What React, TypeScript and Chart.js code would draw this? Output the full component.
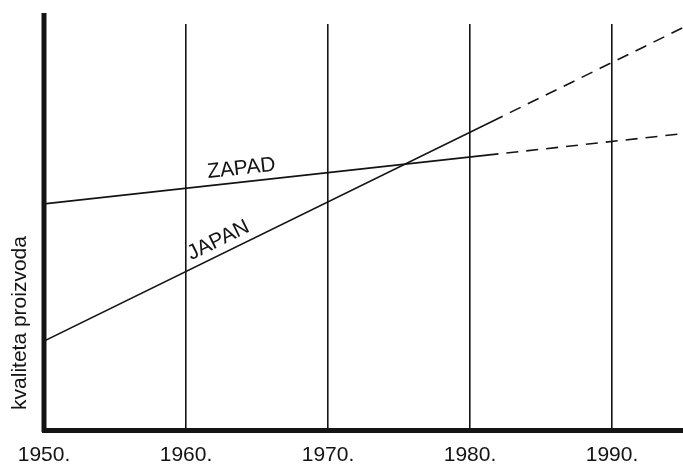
import { useEffect, useRef } from 'react';
import { Chart, registerables } from 'chart.js';

Chart.register(...registerables);

const tickYears = [1950, 1960, 1970, 1980, 1990];
const tickLabels = ['1950.', '1960.', '1970.', '1980.', '1990.'];
const zapadYears = [1950, 1982, 1995];
const zapadValues = [55.7, 68.0, 73.0];
const japanYears = [1950, 1982.3, 1995];
const japanValues = [21.9, 77.3, 99.1];
const seriesNames = ['ZAPAD', 'JAPAN'];
const labelYears = [1964.0, 1962.7];
const yTitle = 'kvaliteta proizvoda';

const FONT = "'Liberation Sans', Arial, sans-serif";
const INK = '#141414';

const lineLabelPlugin = {
  id: 'lineLabels',
  afterDatasetsDraw(chart: any) {
    const { ctx, scales } = chart;
    const xs = scales.x;
    const ys = scales.y;
    chart.data.datasets.forEach((ds: any, i: number) => {
      const pts = ds.data as { x: number; y: number }[];
      const yr = labelYears[i];
      let k = 0;
      while (k < pts.length - 2 && pts[k + 1].x < yr) k++;
      const a = pts[k];
      const b = pts[k + 1];
      const t = (yr - a.x) / (b.x - a.x);
      const v = a.y + (b.y - a.y) * t;
      const px = xs.getPixelForValue(yr);
      const py = ys.getPixelForValue(v);
      const ang = Math.atan2(
        ys.getPixelForValue(b.y) - ys.getPixelForValue(a.y),
        xs.getPixelForValue(b.x) - xs.getPixelForValue(a.x)
      );
      ctx.save();
      ctx.translate(px, py);
      ctx.rotate(ang);
      ctx.fillStyle = INK;
      ctx.font = `21px ${FONT}`;
      ctx.textAlign = 'center';
      ctx.textBaseline = 'bottom';
      ctx.fillText(seriesNames[i], 0, -3);
      ctx.restore();
    });
  },
  afterDraw(chart: any) {
    const { ctx, chartArea } = chart;
    ctx.save();
    ctx.strokeStyle = INK;
    ctx.lineWidth = 5;
    ctx.beginPath();
    ctx.moveTo(chartArea.left, chartArea.top - 11);
    ctx.lineTo(chartArea.left, chartArea.bottom + 2);
    ctx.stroke();
    ctx.translate(chartArea.left - 24, chartArea.bottom - 107);
    ctx.rotate(-Math.PI / 2);
    ctx.fillStyle = INK;
    ctx.font = `21px ${FONT}`;
    ctx.textAlign = 'center';
    ctx.textBaseline = 'middle';
    ctx.fillText(yTitle, 0, 0);
    ctx.restore();
  },
};

export default function App() {
  const ref = useRef<HTMLCanvasElement | null>(null);

  useEffect(() => {
    if (!ref.current) return;
    const mk = (xsArr: number[], vs: number[]) => xsArr.map((x, i) => ({ x, y: vs[i] }));
    const dashSeg = (ctx: any) => (ctx.p0DataIndex >= 1 ? [12, 8] : undefined);
    const dashOff = (ctx: any) => (ctx.p0DataIndex >= 1 ? 12 : 0);
    const chart = new Chart(ref.current, {
      type: 'line',
      data: {
        datasets: [
          {
            label: seriesNames[0],
            data: mk(zapadYears, zapadValues),
            borderColor: INK,
            borderWidth: 1.6,
            pointRadius: 0,
            tension: 0,
            segment: { borderDash: dashSeg, borderDashOffset: dashOff },
          },
          {
            label: seriesNames[1],
            data: mk(japanYears, japanValues),
            borderColor: INK,
            borderWidth: 1.6,
            pointRadius: 0,
            tension: 0,
            segment: { borderDash: dashSeg, borderDashOffset: dashOff },
          },
        ],
      },
      options: {
        animation: false,
        responsive: true,
        maintainAspectRatio: false,
        layout: { padding: { left: 44, right: 0, top: 24, bottom: 0 } },
        plugins: {
          legend: { display: false },
          tooltip: { enabled: false },
          title: { display: false },
        },
        scales: {
          x: {
            type: 'linear',
            min: 1950,
            max: 1995,
            afterBuildTicks: (scale: any) => {
              scale.ticks = tickYears.map((v) => ({ value: v }));
            },
            afterFit: (scale: any) => {
              scale.height = 40;
            },
            ticks: {
              color: INK,
              font: { family: FONT, size: 21 },
              padding: 13,
              maxRotation: 0,
              autoSkip: false,
              callback: (_v: any, i: number) => tickLabels[i],
            },
            grid: { display: true, color: INK, lineWidth: 1.6, drawTicks: false },
            border: { display: true, color: INK, width: 5 },
          },
          y: {
            type: 'linear',
            display: false,
            min: 0,
            max: 100,
          },
        },
      },
      plugins: [lineLabelPlugin],
    });
    return () => chart.destroy();
  }, []);

  return (
    <div style={{ position: 'fixed', left: 0, top: 0, width: 683, height: 470, background: '#fff' }}>
      <canvas ref={ref} />
    </div>
  );
}
